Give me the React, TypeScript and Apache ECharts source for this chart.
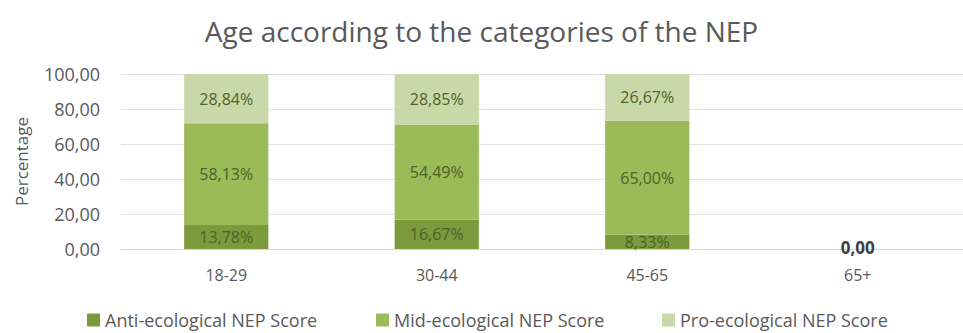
import React, { useEffect, useRef } from "react";
import * as echarts from "echarts";

const categories = ["18-29", "30-44", "45-65", "65+"];
const antiValues = [13.78, 16.67, 8.33, 0];
const midValues = [58.13, 54.49, 65.0, 0];
const proValues = [28.84, 28.85, 26.67, 0];
const yTicks = [0, 20, 40, 60, 80, 100];
const seriesNames = ["Anti-ecological NEP Score", "Mid-ecological NEP Score", "Pro-ecological NEP Score"];

const FONT = "Open Sans";
const fmt = (v: number) => v.toFixed(2).replace(".", ",");

export default function App() {
  const ref = useRef<HTMLDivElement>(null);
  useEffect(() => {
    if (!ref.current) return;
    const chart = echarts.init(ref.current, undefined, { renderer: "svg" });
    const segLabel = {
      show: true,
      position: "inside" as const,
      fontFamily: FONT,
      fontSize: 16,
      color: "#4f6228",
      formatter: (p: any) => (p.value ? fmt(p.value) + "%" : ""),
    };
    const makeData = (arr: number[]) =>
      arr.map((v, i) => (categories[i] === "65+" ? { value: v, label: { show: false } } : v));
    const legendLefts = [87, 376, 662];
    chart.setOption({
      animation: false,
      title: {
        text: "Age according to the categories of the NEP",
        left: "center",
        top: 12,
        textStyle: { fontFamily: FONT, fontSize: 28, fontWeight: "normal", color: "#595959" },
      },
      legend: seriesNames.map((n, i) => ({
        top: 310,
        left: legendLefts[i],
        itemWidth: 13,
        itemHeight: 13,
        itemGap: 0,
        padding: 0,
        icon: "rect",
        textStyle: { fontFamily: FONT, fontSize: 18, color: "#595959", lineHeight: 20 },
        data: [n],
      })),
      grid: { left: 121, right: -6, top: 74, bottom: 84, containLabel: false },
      xAxis: {
        type: "category",
        data: categories,
        axisLine: { lineStyle: { color: "#d9d9d9" } },
        axisTick: { show: false },
        axisLabel: { fontFamily: FONT, fontSize: 16, color: "#595959", margin: 18 },
      },
      yAxis: {
        type: "value",
        min: yTicks[0],
        max: yTicks[yTicks.length - 1],
        interval: 20,
        name: "Percentage",
        nameLocation: "middle",
        nameGap: 91,
        nameTextStyle: { fontFamily: FONT, fontSize: 17, color: "#595959" },
        axisLabel: { fontFamily: FONT, fontSize: 18, color: "#595959", margin: 21, formatter: (v: number) => fmt(v) },
        splitLine: { lineStyle: { color: "#e3e3e3" } },
        axisLine: { show: false },
        axisTick: { show: false },
      },
      series: [
        {
          name: seriesNames[0],
          type: "bar",
          stack: "total",
          barWidth: "40%",
          itemStyle: { color: "#7a9a3c" },
          label: segLabel,
          data: antiValues.map((v, i) =>
            categories[i] === "65+"
              ? {
                  value: v,
                  label: {
                    show: true,
                    position: "top",
                    distance: -7,
                    formatter: () => fmt(v),
                    fontWeight: "bold",
                    color: "#404040",
                    fontSize: 17,
                    fontFamily: FONT,
                  },
                }
              : v
          ),
        },
        {
          name: seriesNames[1],
          type: "bar",
          stack: "total",
          itemStyle: { color: "#9bbb59" },
          label: segLabel,
          data: makeData(midValues),
        },
        {
          name: seriesNames[2],
          type: "bar",
          stack: "total",
          itemStyle: { color: "#c9d8a8" },
          label: segLabel,
          data: makeData(proValues),
        },
      ],
    });
    return () => chart.dispose();
  }, []);
  return (
    <div
      ref={ref}
      style={{ position: "fixed", left: 0, top: 0, width: 963, height: 333, background: "#fff" }}
    />
  );
}
